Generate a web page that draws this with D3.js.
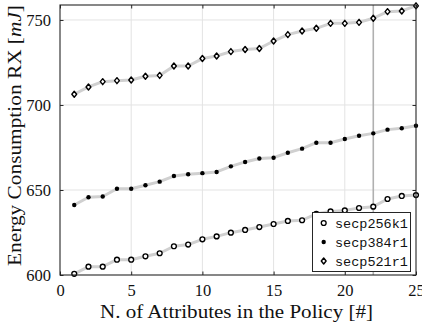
<!DOCTYPE html>
<html>
<head>
<meta charset="utf-8">
<script src="https://cdn.jsdelivr.net/npm/d3@7"></script>
<style>
  html, body { margin: 0; padding: 0; background: #fff; }
  svg { display: block; }
</style>
</head>
<body>
<svg id="chart" width="422" height="326"></svg>
<script>
// ---- data ----
const attributes = [1,2,3,4,5,6,7,8,9,10,11,12,13,14,15,16,17,18,19,20,21,22,23,24,25];
const secp256k1 = [600.7,604.9,604.9,609.0,609.0,611.0,612.8,616.9,617.9,621.0,622.7,624.9,626.5,628.2,630.0,631.8,632.2,636.0,637.4,638.0,639.4,640.2,644.7,646.5,647.0];
const secp384r1 = [641.2,645.7,646.2,650.7,650.7,652.8,654.9,658.2,659.3,659.9,660.6,663.9,666.5,668.5,669.0,671.9,674.3,677.8,677.8,680.0,681.9,683.3,685.5,686.3,687.8];
const secp521r1 = [706.3,710.6,713.7,714.3,714.7,716.9,717.4,722.9,722.9,727.3,728.8,731.4,732.6,733.2,737.6,741.4,743.5,745.1,748.0,748.0,748.6,751.0,754.9,755.3,758.3];
const seriesNames = ["secp256k1","secp384r1","secp521r1"];
const xTicks = [0,5,10,15,20,25];
const yTicks = [600,650,700,750];
const highlightX = 22;
const xTitle = "N. of Attributes in the Policy [#]";

// ---- layout ----
const svg = d3.select("#chart");
const L = 60, R = 416, T = 5, B = 275;
const x = d3.scaleLinear().domain([0,25]).range([L,R]);
const y = d3.scaleLinear().domain([600,758.8]).range([B,T]);
const serif = "'Liberation Serif','DejaVu Serif',serif";
const mono = "'Liberation Mono','DejaVu Sans Mono',monospace";
const axisCol = "#262626";

// grid
const g = svg.append("g");
g.selectAll(".gx").data(xTicks.filter(d => d > 0 && d < 25)).enter().append("line")
  .attr("x1", d => x(d)).attr("x2", d => x(d)).attr("y1", T).attr("y2", B)
  .attr("stroke", "#e3e3e3").attr("stroke-width", 1);
g.selectAll(".gy").data(yTicks.filter(d => d > 600)).enter().append("line")
  .attr("x1", L).attr("x2", R).attr("y1", d => y(d)).attr("y2", d => y(d))
  .attr("stroke", "#e3e3e3").attr("stroke-width", 1);

// highlight vertical line
svg.append("line")
  .attr("x1", x(highlightX)).attr("x2", x(highlightX)).attr("y1", T).attr("y2", B)
  .attr("stroke", "#b0b0b0").attr("stroke-width", 1.6);

// series
const series = [
  {name: seriesNames[0], vals: secp256k1, marker: "circle"},
  {name: seriesNames[1], vals: secp384r1, marker: "dot"},
  {name: seriesNames[2], vals: secp521r1, marker: "diamond"}
];
const line = d3.line().x(d => x(d[0])).y(d => y(d[1]));

function drawMarker(sel, type) {
  if (type === "circle") {
    sel.append("circle").attr("r", 2.4).attr("fill", "#fff").attr("stroke", "#000").attr("stroke-width", 1.4);
  } else if (type === "dot") {
    sel.append("circle").attr("r", 2.2).attr("fill", "#000");
  } else {
    sel.append("path").attr("d", "M0,-3 L2.4,0 L0,3 L-2.4,0 Z").attr("fill", "#fff").attr("stroke", "#000").attr("stroke-width", 1.4).attr("stroke-linejoin", "round");
  }
}

series.forEach(s => {
  const pts = attributes.map((a, i) => [a, s.vals[i]]);
  svg.append("path").datum(pts).attr("d", line)
    .attr("fill", "none").attr("stroke", "#d0d0d0").attr("stroke-width", 3).attr("stroke-linejoin", "round");
});
series.forEach(s => {
  const pts = attributes.map((a, i) => [a, s.vals[i]]);
  svg.append("g").selectAll("g").data(pts).enter().append("g")
    .attr("transform", d => `translate(${x(d[0])},${y(d[1])})`)
    .each(function() { drawMarker(d3.select(this), s.marker); });
});

// axes
const tick = 3.5;
const axB = svg.append("g").attr("transform", `translate(0,${B})`)
  .call(d3.axisBottom(x).tickValues(xTicks).tickSize(-tick).tickPadding(9));
const axT = svg.append("g").attr("transform", `translate(0,${T})`)
  .call(d3.axisTop(x).tickValues(xTicks).tickSize(-tick).tickFormat(""));
const axL = svg.append("g").attr("transform", `translate(${L},0)`)
  .call(d3.axisLeft(y).tickValues(yTicks).tickSize(-tick).tickPadding(9));
const axR = svg.append("g").attr("transform", `translate(${R},0)`)
  .call(d3.axisRight(y).tickValues(yTicks).tickSize(-tick).tickFormat(""));
[axB, axT, axL, axR].forEach(a => {
  a.select(".domain").attr("stroke", axisCol).attr("stroke-width", 1.1).attr("d", null);
  a.selectAll(".tick line").attr("stroke", axisCol);
  a.selectAll("text").attr("font-family", serif).attr("font-size", 16.5).attr("fill", "#111");
});
svg.append("rect").attr("x", L).attr("y", T).attr("width", R - L).attr("height", B - T)
  .attr("fill", "none").attr("stroke", axisCol).attr("stroke-width", 1.1);
axB.selectAll("text").attr("dy", "0.72em");

// legend
const lg = svg.append("g");
lg.append("rect").attr("x", 312.5).attr("y", 212.5).attr("width", 98).attr("height", 59)
  .attr("fill", "#fff").attr("stroke", axisCol).attr("stroke-width", 1);
series.forEach((s, i) => {
  const row = lg.append("g").attr("transform", `translate(0,${223 + i * 19})`);
  const m = row.append("g").attr("transform", "translate(323.7,0)");
  drawMarker(m, s.marker);
  row.append("text").attr("x", 335).attr("dy", "0.35em")
    .attr("font-family", mono).attr("font-size", 13.5).attr("fill", "#111").text(s.name);
});

// titles
svg.append("text").attr("x", 236.5).attr("y", 318).attr("text-anchor", "middle")
  .attr("font-family", serif).attr("font-size", 18.5).attr("fill", "#111")
  .attr("textLength", 273).attr("lengthAdjust", "spacingAndGlyphs").text(xTitle);

const yt = svg.append("text").attr("transform", "translate(21,135.5) rotate(-90)")
  .attr("text-anchor", "middle").attr("font-family", serif).attr("font-size", 18.5).attr("fill", "#111")
  .attr("textLength", 261).attr("lengthAdjust", "spacingAndGlyphs");
yt.append("tspan").text("Energy Consumption RX [");
yt.append("tspan").attr("font-style", "italic").text("mJ");
yt.append("tspan").text("]");
</script>
</body>
</html>
